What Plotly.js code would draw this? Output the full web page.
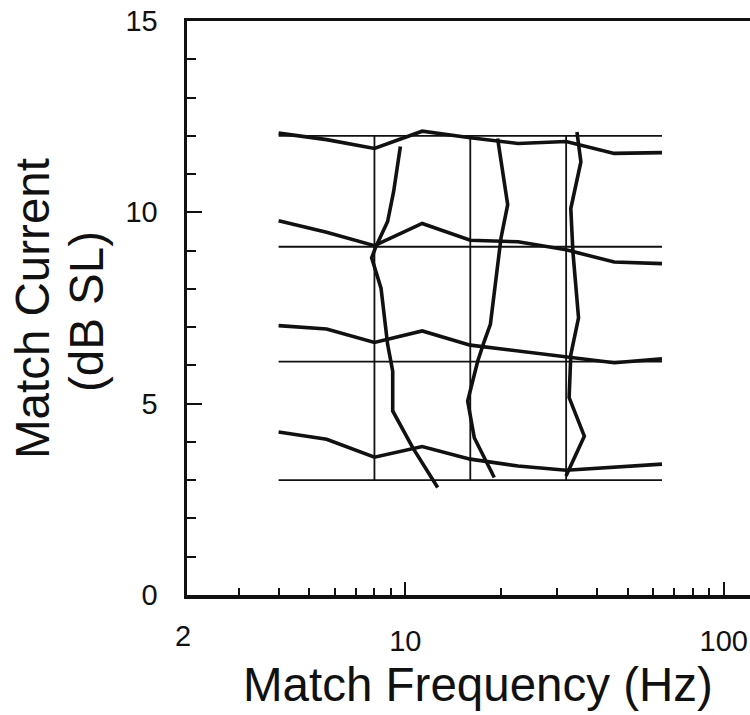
<!DOCTYPE html>
<html>
<head>
<meta charset="utf-8">
<script src="https://cdn.plot.ly/plotly-3.0.1.min.js"></script>
<style>html,body{margin:0;padding:0;background:#fff;}#chart{width:750px;height:715px;}</style>
</head>
<body>
<div id="chart"></div>
<script>
// Standard stimuli (thin grid lines)
const stdFreqs = [8, 16, 32];            // Hz
const stdLevels = [3, 6.1, 9.1, 12];     // dB SL
const stdFreqSpan = [4, 64];
const stdLevelSpan = [3, 12];

// Current matches (thick, roughly horizontal)
const matchFreqs = [4, 5.66, 8, 11.3, 16, 22.6, 32, 45.3, 64];
const curLevel12 = [12.07, 11.9, 11.67, 12.12, 11.95, 11.8, 11.85, 11.54, 11.56];
const curLevel9  = [9.78, 9.48, 9.13, 9.71, 9.27, 9.23, 9.02, 8.7, 8.66];
const curLevel6  = [7.04, 6.95, 6.6, 6.9, 6.53, 6.38, 6.22, 6.07, 6.17];
const curLevel3  = [4.26, 4.07, 3.6, 3.88, 3.55, 3.37, 3.26, 3.33, 3.42];

// Frequency matches (thick, roughly vertical)
const freq8x  = [9.65, 9.19, 8.80, 8.09, 7.84, 8.39, 8.80, 9.13, 9.13, 10.55, 12.64];
const freq8y  = [11.72, 10.54, 9.76, 9.11, 8.81, 8.02, 6.55, 5.85, 4.81, 3.85, 2.81];
const freq16x = [19.5, 20.97, 19.98, 18.5, 17.7, 16.88, 15.7, 16.47, 19.03];
const freq16y = [11.93, 10.2, 9.33, 7.07, 6.63, 6.11, 5.07, 4.11, 3.07];
const freq32x = [34.6, 35.6, 33.1, 33.6, 35.0, 33.1, 32.7, 36.5, 31.97];
const freq32y = [12.1, 11.32, 10.1, 8.98, 7.24, 6.28, 5.16, 4.15, 3.11];

const xMajorTicks = [10, 100];
const xMajorText = ['10', '100'];
const xMinorTicks = [3, 4, 5, 6, 7, 8, 9, 20, 30, 40, 50, 60, 70, 80, 90];
const yTicks = [0, 5, 10, 15];

const ink = '#111';
const thin = {color: ink, width: 1.8};
const thick = {color: ink, width: 3.6};

const traces = [];
// thin horizontal lines
stdLevels.forEach(l => traces.push({x: stdFreqSpan, y: [l, l], mode: 'lines', line: thin, hoverinfo: 'skip'}));
// thin vertical lines
stdFreqs.forEach(f => traces.push({x: [f, f], y: stdLevelSpan, mode: 'lines', line: thin, hoverinfo: 'skip'}));
// thick curves
[curLevel12, curLevel9, curLevel6, curLevel3].forEach(c => traces.push({x: matchFreqs, y: c, mode: 'lines', line: thick}));
[[freq8x, freq8y], [freq16x, freq16y], [freq32x, freq32y]].forEach(p => traces.push({x: p[0], y: p[1], mode: 'lines', line: thick}));

const font = {family: 'Liberation Sans, Arial, Helvetica, sans-serif', color: ink};

const layout = {
  width: 750, height: 715,
  margin: {l: 187, r: 0, t: 21, b: 120, pad: 0},
  paper_bgcolor: '#fff', plot_bgcolor: '#fff',
  showlegend: false,
  font: font,
  xaxis: {
    type: 'log', range: [0.3144, 2.0826],
    showline: true, linewidth: 3.5, linecolor: ink, mirror: true,
    showgrid: false, zeroline: false,
    tickmode: 'array', tickvals: xMajorTicks, ticktext: xMajorText,
    ticks: 'inside', ticklen: 13, tickwidth: 2.2, tickcolor: ink,
    tickfont: {family: font.family, size: 29, color: ink},
    ticklabelstandoff: 18,
    minor: {tickmode: 'array', tickvals: xMinorTicks, ticks: 'inside', ticklen: 7, tickwidth: 2, tickcolor: ink, showgrid: false}
  },
  yaxis: {
    range: [0, 15],
    showline: true, linewidth: 3.5, linecolor: ink, mirror: false,
    showgrid: false, zeroline: false,
    tickmode: 'array', tickvals: yTicks,
    ticks: 'inside', ticklen: 15, tickwidth: 2.2, tickcolor: ink,
    tickfont: {family: font.family, size: 29, color: ink},
    ticklabelstandoff: 20,
    minor: {dtick: 1, ticks: 'inside', ticklen: 9, tickwidth: 2, tickcolor: ink, showgrid: false}
  },
  annotations: [
    {text: '2', xref: 'paper', yref: 'paper', x: 0, y: 0, xanchor: 'center', yanchor: 'middle',
     xshift: -4, yshift: -41, showarrow: false, font: {family: font.family, size: 29, color: ink}},
    {text: 'Match Frequency (Hz)', xref: 'paper', yref: 'paper', x: 0, y: 0, xanchor: 'center', yanchor: 'middle',
     xshift: 291, yshift: -89, showarrow: false, font: {family: font.family, size: 47.5, color: ink}},
    {text: 'Match Current', xref: 'paper', yref: 'paper', x: 0, y: 0, xanchor: 'center', yanchor: 'middle',
     xshift: -155, yshift: 286, textangle: -90, showarrow: false, font: {family: font.family, size: 47.5, color: ink}},
    {text: '(dB SL)', xref: 'paper', yref: 'paper', x: 0, y: 0, xanchor: 'center', yanchor: 'middle',
     xshift: -101, yshift: 283, textangle: -90, showarrow: false, font: {family: font.family, size: 47.5, color: ink}}
  ]
};

Plotly.newPlot('chart', traces, layout, {staticPlot: true, displayModeBar: false});
</script>
</body>
</html>
